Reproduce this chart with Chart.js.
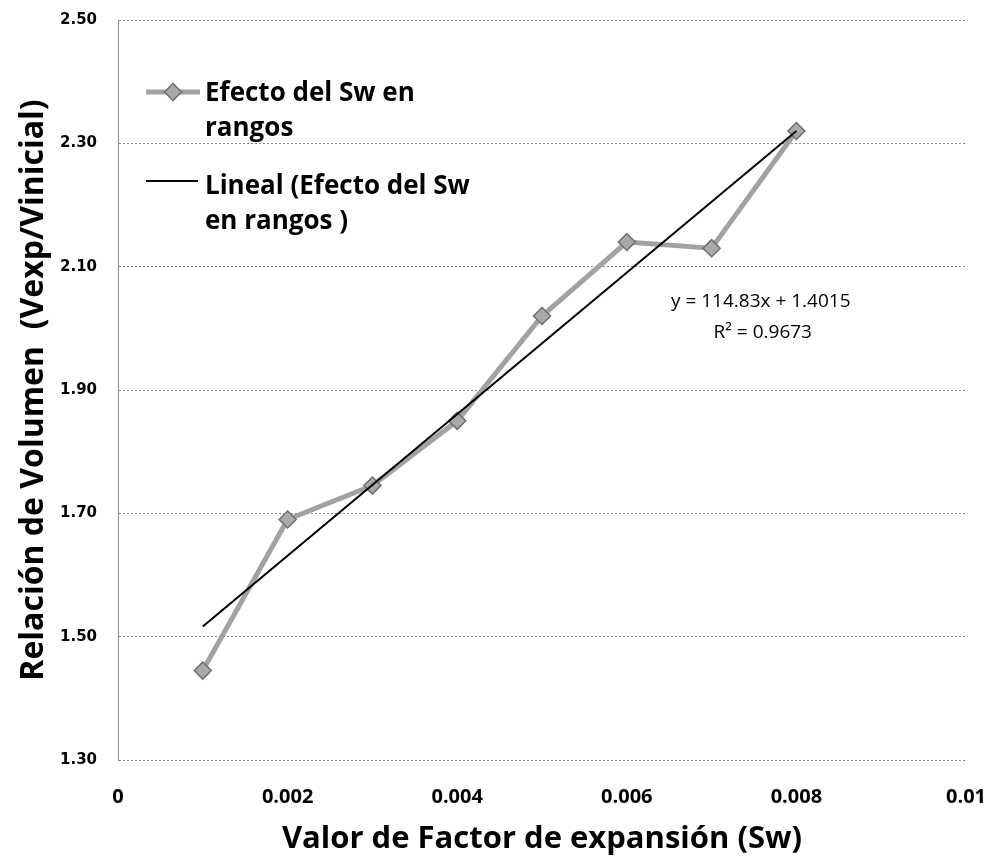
<!DOCTYPE html>
<html>
<head>
<meta charset="utf-8">
<title>Relación de Volumen vs Factor de expansión</title>
<script src="https://cdn.jsdelivr.net/npm/chart.js@4.4.1/dist/chart.umd.min.js"></script>
<style>
  html, body { margin: 0; padding: 0; background: #fff; }
  #wrap { width: 1001px; height: 864px; }
</style>
</head>
<body>
<div id="wrap"><canvas id="ChartExpansion" width="1001" height="864"></canvas></div>
<script>
// measured points
const swValues = [0.001, 0.002, 0.003, 0.004, 0.005, 0.006, 0.007, 0.008];
const volumeRatio = [1.445, 1.69, 1.745, 1.85, 2.02, 2.14, 2.13, 2.32];

// axis ticks
const xTickValues = [0, 0.002, 0.004, 0.006, 0.008, 0.01];
const yTickValues = [1.30, 1.50, 1.70, 1.90, 2.10, 2.30, 2.50];

// linear fit as reported on the chart
const fitSlope = 114.83;
const fitIntercept = 1.4015;
const fitR2 = 0.9673;

const seriesLabel = 'Efecto del Sw en rangos';
const fitLabel = 'Lineal (Efecto del Sw en rangos )';
const seriesLegendLines = ['Efecto del Sw en', 'rangos'];
const fitLegendLines = ['Lineal (Efecto del Sw', 'en rangos )'];

const seriesPoints = swValues.map((x, i) => ({ x: x, y: volumeRatio[i] }));
const fitX = [swValues[0], swValues[swValues.length - 1]];
const fitPoints = fitX.map(x => ({ x: x, y: fitSlope * x + fitIntercept }));

const gridColor = '#8c8c8c';
const seriesColor = '#a2a2a2';
const textFont = 'Open Sans';

const boxLegend = {
    id: 'boxLegend',
    afterDraw(chart) {
        const ctx = chart.ctx;
        const s = chart.data.datasets[0];
        const f = chart.data.datasets[1];
        ctx.save();

        // series sample: thick grey line with a diamond
        ctx.strokeStyle = s.borderColor;
        ctx.lineWidth = s.borderWidth;
        ctx.beginPath();
        ctx.moveTo(146, 92);
        ctx.lineTo(200, 92);
        ctx.stroke();
        ctx.fillStyle = s.pointBackgroundColor;
        ctx.strokeStyle = s.pointBorderColor;
        ctx.lineWidth = s.pointBorderWidth;
        Chart.helpers.drawPoint(ctx, { pointStyle: 'rectRot', radius: s.pointRadius, borderWidth: s.pointBorderWidth }, 173, 92);

        // fit sample
        ctx.strokeStyle = f.borderColor;
        ctx.lineWidth = f.borderWidth;
        ctx.beginPath();
        ctx.moveTo(146, 181);
        ctx.lineTo(198, 181);
        ctx.stroke();

        ctx.fillStyle = '#000';
        ctx.font = 'bold 26px "' + textFont + '"';
        ctx.textAlign = 'left';
        ctx.textBaseline = 'alphabetic';
        seriesLegendLines.forEach((t, i) => ctx.fillText(t, 205, 101 + i * 35));
        fitLegendLines.forEach((t, i) => ctx.fillText(t, 205, 194 + i * 35));

        // fit equation
        const xs = chart.scales.x, ys = chart.scales.y;
        const ex = xs.getPixelForValue(0.00758);
        ctx.font = '19px "' + textFont + '"';
        ctx.textAlign = 'center';
        ctx.fillText('y = ' + fitSlope + 'x + ' + fitIntercept, ex, ys.getPixelForValue(2.035));
        ctx.fillText('R\u00b2 = ' + fitR2, ex + 2, ys.getPixelForValue(1.985));
        ctx.restore();
    }
};

const config = {
    type: 'scatter',
    data: {
        datasets: [{
            label: seriesLabel,
            data: seriesPoints,
            showLine: true,
            borderColor: seriesColor,
            borderWidth: 5,
            pointStyle: 'rectRot',
            pointRadius: 8.5,
            pointBackgroundColor: '#a9a9a9',
            pointBorderColor: '#6e6e6e',
            pointBorderWidth: 1.5,
            order: 2
        }, {
            label: fitLabel,
            data: fitPoints,
            showLine: true,
            borderColor: '#000',
            borderWidth: 2,
            pointRadius: 0,
            order: 1
        }]
    },
    options: {
        responsive: false,
        animation: false,
        devicePixelRatio: 1,
        layout: { padding: { top: 20, right: 35, left: 0, bottom: 0 } },
        plugins: {
            legend: { display: false },
            tooltip: { enabled: false }
        },
        scales: {
            x: {
                type: 'linear',
                min: 0,
                max: 0.01,
                afterBuildTicks: scale => { scale.ticks = xTickValues.map(v => ({ value: v })); },
                afterFit: scale => { scale.height = 104; },
                // invisible tick marks keep the labels clear of the plot
                grid: { drawOnChartArea: false, drawTicks: true, tickLength: 25, tickColor: 'transparent' },
                border: { display: false },
                ticks: {
                    padding: 0,
                    color: '#000',
                    font: { family: textFont, weight: 'bold', size: 20 },
                    maxRotation: 0,
                    callback: v => String(+v.toFixed(3))
                },
                title: {
                    display: true,
                    text: 'Valor de Factor de expansión (Sw)',
                    color: '#000',
                    font: { family: textFont, weight: 'bold', size: 31 },
                    padding: { top: 0, bottom: 6 }
                }
            },
            y: {
                type: 'linear',
                min: 1.3,
                max: 2.5,
                afterBuildTicks: scale => { scale.ticks = yTickValues.map(v => ({ value: v })); },
                afterFit: scale => { scale.width = 118; },
                grid: {
                    color: gridColor,
                    lineWidth: 1,
                    drawTicks: true,
                    tickLength: 21,
                    tickColor: 'transparent',
                    tickBorderDash: [2, 2]
                },
                border: { display: true, color: gridColor, width: 1, dash: [2, 2] },
                ticks: {
                    padding: 0,
                    color: '#000',
                    font: { family: 'DejaVu Sans', weight: 'bold', size: 15 },
                    callback: v => v.toFixed(2)
                },
                title: {
                    display: true,
                    text: 'Relación de Volumen  (Vexp/Vinicial)',
                    color: '#000',
                    font: { family: textFont, weight: 'bold', size: 32 },
                    padding: { top: 15, bottom: 0 }
                }
            }
        }
    },
    plugins: [boxLegend]
};

const myChart = new Chart(document.getElementById('ChartExpansion'), config);
</script>
</body>
</html>
